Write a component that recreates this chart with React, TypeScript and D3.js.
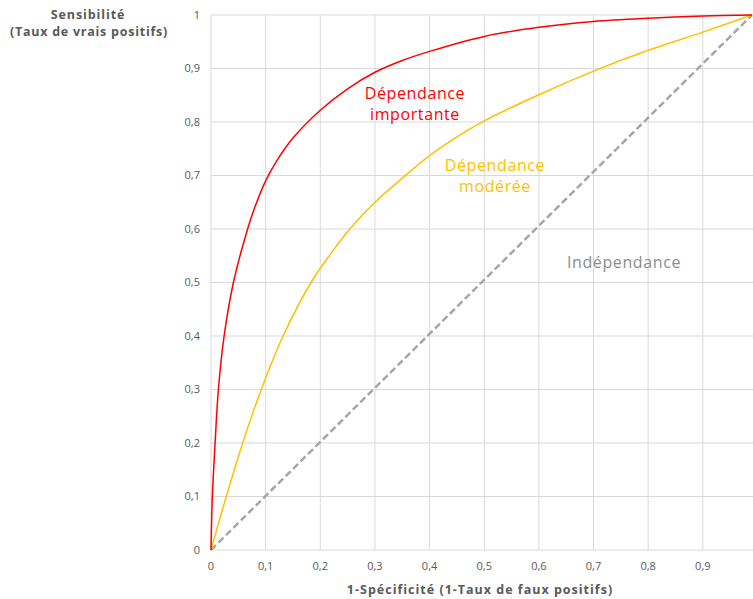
import React from "react";
import * as d3 from "d3";

const xTicks = [0, 0.1, 0.2, 0.3, 0.4, 0.5, 0.6, 0.7, 0.8, 0.9];
const yTicks = [0, 0.1, 0.2, 0.3, 0.4, 0.5, 0.6, 0.7, 0.8, 0.9, 1];

const redFpr = [0, 0.0025, 0.0075, 0.0135, 0.024, 0.041, 0.067, 0.08, 0.1, 0.12, 0.15, 0.2, 0.25, 0.3, 0.35, 0.4, 0.5, 0.6, 0.7, 0.8, 0.9, 0.99];
const redTpr = [0, 0.1, 0.2, 0.3, 0.4, 0.5, 0.6, 0.64, 0.69, 0.727, 0.77, 0.822, 0.862, 0.893, 0.915, 0.932, 0.96, 0.977, 0.988, 0.994, 0.998, 1];

const yelFpr = [0, 0.028, 0.058, 0.092, 0.132, 0.183, 0.22, 0.254, 0.3, 0.35, 0.4, 0.45, 0.5, 0.6, 0.7, 0.8, 0.9, 0.99];
const yelTpr = [0, 0.1, 0.2, 0.3, 0.4, 0.5, 0.555, 0.6, 0.65, 0.695, 0.737, 0.772, 0.802, 0.851, 0.895, 0.934, 0.968, 1];

const diagFpr = [0, 0.99];
const diagTpr = [0, 1];

const W = 753;
const H = 599;
const FONT = "'Open Sans', 'DejaVu Sans', sans-serif";

export default function App() {
  const x = d3.scaleLinear().domain([0, 0.99]).range([211, 752]);
  const y = d3.scaleLinear().domain([0, 1]).range([550, 15]);
  const line = d3
    .line<[number, number]>()
    .x((d) => x(d[0]))
    .y((d) => y(d[1]))
    .curve(d3.curveCatmullRom.alpha(0.5));
  const zip = (a: number[], b: number[]) => a.map((v, i) => [v, b[i]] as [number, number]);
  const fmt = (v: number) => String(v).replace(".", ",");
  const xEnd = x(1);

  return (
    <svg
      width={W}
      height={H}
      style={{ position: "absolute", left: 0, top: 0, background: "#fff" }}
      fontFamily={FONT}
    >
      {/* grid */}
      {yTicks.map((t) => (
        <line key={"gy" + t} x1={x(0)} x2={xEnd} y1={y(t)} y2={y(t)} stroke="#D9D9D9" strokeWidth={1} />
      ))}
      {xTicks.map((t) => (
        <line key={"gx" + t} x1={x(t)} x2={x(t)} y1={y(0)} y2={y(1)} stroke="#D9D9D9" strokeWidth={1} />
      ))}
      {/* tick labels */}
      {yTicks.map((t) => (
        <text key={"ly" + t} x={200} y={y(t)} dy="0.35em" textAnchor="end" fontSize={11} fill="#595959">
          {fmt(t)}
        </text>
      ))}
      {xTicks.map((t) => (
        <text key={"lx" + t} x={x(t)} y={566} dy="0.35em" textAnchor="middle" fontSize={11} fill="#595959">
          {fmt(t)}
        </text>
      ))}
      {/* series */}
      <path d={line(zip(diagFpr, diagTpr)) || ""} fill="none" stroke="#A6A6A6" strokeWidth={2.5} strokeDasharray="7,3.5" />
      <path d={line(zip(yelFpr, yelTpr)) || ""} fill="none" stroke="#FFC000" strokeWidth={1.5} />
      <path d={line(zip(redFpr, redTpr)) || ""} fill="none" stroke="#FF0000" strokeWidth={1.5} />
      {/* annotations */}
      <g fontSize={16} textAnchor="middle" letterSpacing={0.6}>
        <text x={415} y={93} dy="0.35em" fill="#FF0000">Dépendance</text>
        <text x={415} y={114} dy="0.35em" fill="#FF0000">importante</text>
        <text x={495} y={165} dy="0.35em" fill="#FFC000">Dépendance</text>
        <text x={495} y={186} dy="0.35em" fill="#FFC000">modérée</text>
        <text x={624} y={262} dy="0.35em" fill="#8C8C8C">Indépendance</text>
      </g>
      {/* axis titles */}
      <g fontSize={12.5} fontWeight="bold" fill="#595959" textAnchor="middle">
        <text x={88} y={15} dy="0.35em" letterSpacing={0.9}>Sensibilité</text>
        <text x={89} y={32} dy="0.35em" letterSpacing={0.75}>(Taux de vrais positifs)</text>
        <text x={480} y={590} dy="0.35em" letterSpacing={1}>1-Spécificité (1-Taux de faux positifs)</text>
      </g>
    </svg>
  );
}
